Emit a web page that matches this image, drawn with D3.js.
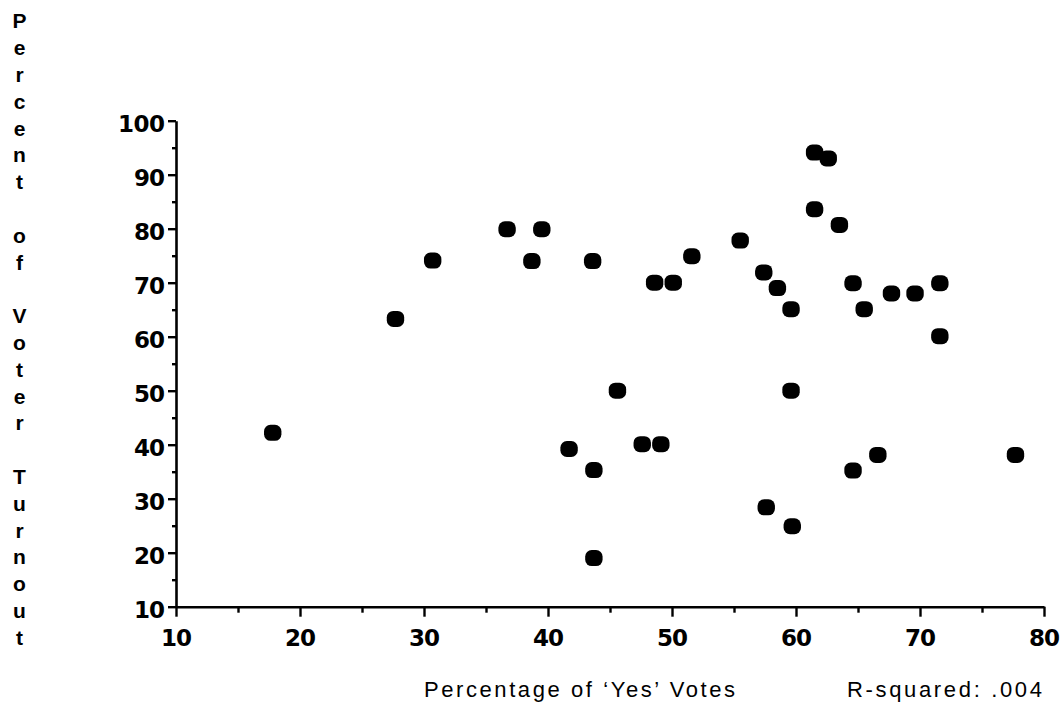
<!DOCTYPE html>
<html>
<head>
<meta charset="utf-8">
<script src="https://cdn.jsdelivr.net/npm/d3@7"></script>
<style>
  html, body { margin: 0; padding: 0; background: #fff; }
  svg { display: block; }
</style>
</head>
<body>
<svg id="chart" width="1060" height="709"></svg>
<script>
// ---- data ----
const yesVotes = [17.8, 27.7, 30.7, 36.7, 39.5, 38.7, 43.6, 41.7, 43.7, 43.7,
                  45.6, 47.6, 49.1, 48.6, 50.1, 51.6, 55.5, 57.4, 58.5, 59.6,
                  59.6, 59.7, 57.6, 61.5, 62.6, 61.5, 63.5, 64.6, 65.5, 64.6,
                  66.6, 67.7, 69.6, 71.6, 71.6, 77.7];
const turnout  = [42.2, 63.3, 74.1, 79.9, 79.9, 74.0, 74.0, 39.2, 35.3, 19.0,
                  50.0, 40.1, 40.1, 70.0, 70.0, 74.9, 77.8, 71.9, 69.0, 65.1,
                  50.0, 24.9, 28.4, 94.1, 93.0, 83.6, 80.7, 69.9, 65.1, 35.2,
                  38.1, 68.0, 68.0, 69.9, 60.1, 38.1];
const xTicks = [10, 20, 30, 40, 50, 60, 70, 80];
const xMinorTicks = [15, 25, 35, 45, 55, 65, 75];
const yTicks = [10, 20, 30, 40, 50, 60, 70, 80, 90, 100];
const yMinorTicks = [15, 25, 35, 45, 55, 65, 75, 85, 95];
const yTitle = "Percent of Voter Turnout";
const xTitle = "Percentage of \u2018Yes\u2019 Votes";
const rLabel = "R-squared:  .004";

const svg = d3.select("#chart");
const x = d3.scaleLinear().domain([10, 80]).range([176, 1044]);
const y = d3.scaleLinear().domain([10, 100]).range([606.7, 120.7]);

const tickFont = "'DejaVu Sans', sans-serif";

// y axis
const yAxisG = svg.append("g").attr("transform", `translate(${x(10)},0)`)
  .call(d3.axisLeft(y).tickValues(yTicks).tickSize(8).tickSizeOuter(0).tickFormat(d3.format("d")));
const yMinorG = svg.append("g").attr("transform", `translate(${x(10)},0)`)
  .call(d3.axisLeft(y).tickValues(yMinorTicks).tickSize(4).tickSizeOuter(0).tickFormat(""));
yMinorG.select(".domain").remove();

// x axis
const xAxisG = svg.append("g").attr("transform", `translate(0,${y(10)})`)
  .call(d3.axisBottom(x).tickValues(xTicks).tickSize(10).tickSizeOuter(0).tickFormat(d3.format("d")));
const xMinorG = svg.append("g").attr("transform", `translate(0,${y(10)})`)
  .call(d3.axisBottom(x).tickValues(xMinorTicks).tickSize(6).tickSizeOuter(0).tickFormat(""));
xMinorG.select(".domain").remove();

svg.selectAll(".domain").attr("stroke", "#000").attr("stroke-width", 2.6);
svg.selectAll(".tick line").attr("stroke", "#000").attr("stroke-width", 2.4);

yAxisG.selectAll(".tick text")
  .attr("x", -11).attr("y", 11).attr("dy", null)
  .attr("font-family", tickFont).attr("font-weight", "bold").attr("font-size", 23)
  .attr("fill", "#000")
  .attr("textLength", d => d >= 100 ? 47 : 31).attr("lengthAdjust", "spacing");

xAxisG.selectAll(".tick text")
  .attr("y", 39).attr("dy", null)
  .attr("font-family", tickFont).attr("font-weight", "bold").attr("font-size", 23)
  .attr("fill", "#000")
  .attr("textLength", 31).attr("lengthAdjust", "spacing");

// points
const pts = yesVotes.map((v, i) => ({ x: v, y: turnout[i] }));
svg.append("g").selectAll("rect").data(pts).join("rect")
  .attr("x", d => x(d.x) - 8.7)
  .attr("y", d => y(d.y) - 8)
  .attr("width", 17.4)
  .attr("height", 16)
  .attr("rx", 6.5).attr("ry", 6.5)
  .attr("fill", "#000");

// vertical y title: one letter per line
const letters = yTitle.split("");
svg.append("g").selectAll("text").data(letters).join("text")
  .attr("x", 19.5)
  .attr("y", (d, i) => 28.3 + i * 26.8)
  .attr("text-anchor", "middle")
  .attr("font-family", "'Liberation Sans', Arial, sans-serif")
  .attr("font-weight", "bold")
  .attr("font-size", 21)
  .attr("fill", "#000")
  .text(d => d);

// x title and r-squared
svg.append("text")
  .attr("x", 424).attr("y", 697)
  .attr("font-family", "'Liberation Sans', Arial, sans-serif")
  .attr("font-size", 22)
  .attr("fill", "#000")
  .attr("textLength", 311).attr("lengthAdjust", "spacing")
  .text(xTitle);

svg.append("text")
  .attr("x", 847).attr("y", 697)
  .attr("font-family", "'Liberation Sans', Arial, sans-serif")
  .attr("font-size", 22)
  .attr("fill", "#000")
  .attr("textLength", 195).attr("lengthAdjust", "spacing")
  .text(rLabel);
</script>
</body>
</html>
